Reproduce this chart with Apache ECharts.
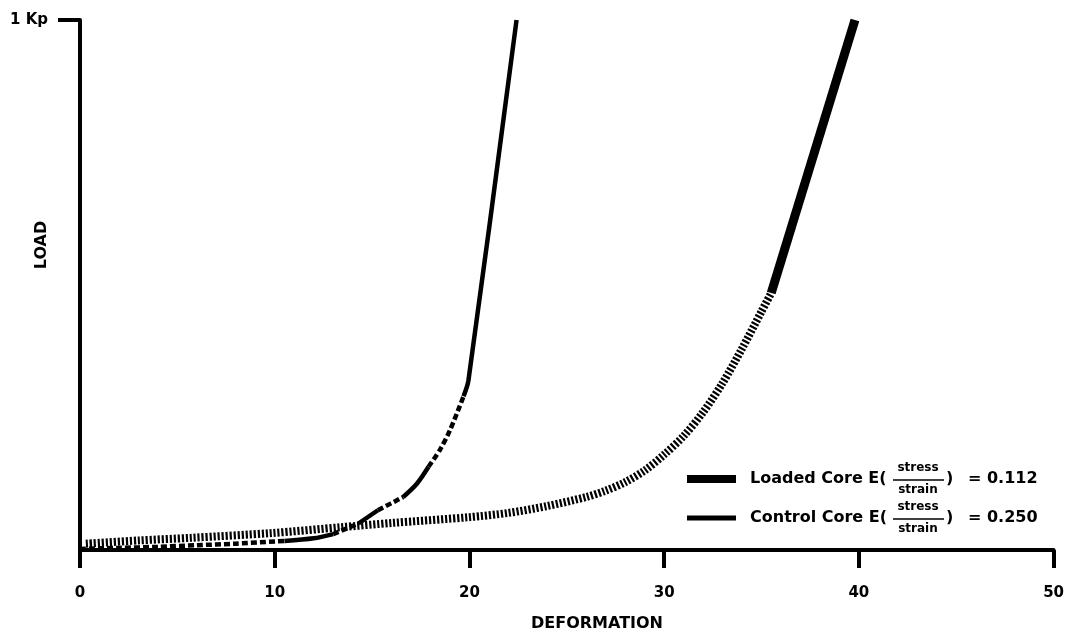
<!DOCTYPE html>
<html>
<head>
<meta charset="utf-8">
<script src="https://cdn.jsdelivr.net/npm/echarts@6/dist/echarts.min.js"></script>
<style>
html,body{margin:0;padding:0;background:#fff;}
#chart{width:1067px;height:633px;}
</style>
</head>
<body>
<div id="chart"></div>
<script>
// ---- data ----
var xTicks = [0, 10, 20, 30, 40, 50];
var yTickLabel = '1 Kp';
var xAxisTitle = 'DEFORMATION';
var yAxisTitle = 'LOAD';

var loadedDeformation = [0.3, 3, 5.7, 9.85, 13.4, 16, 20, 22, 24, 26, 27, 28, 29, 30, 31, 32, 33, 34, 35, 35.5, 39.8];
var loadedLoad        = [0.012, 0.018, 0.023, 0.032, 0.043, 0.051, 0.062, 0.07, 0.083, 0.1, 0.112, 0.128, 0.15, 0.18, 0.215, 0.26, 0.315, 0.38, 0.45, 0.485, 1.0];
// index ranges: hatched part, solid part
var loadedSegments = [[0, 19, 'hatch'], [19, 20, 'solid']];

var controlDeformation = [0, 2, 4, 6, 8, 10.5, 12, 13, 14.3, 15.3, 16.6, 17.3, 17.9, 18.5, 19, 19.7, 19.95, 22.42];
var controlLoad        = [0.002, 0.004, 0.006, 0.009, 0.012, 0.017, 0.022, 0.03, 0.05, 0.075, 0.10, 0.125, 0.157, 0.19, 0.226, 0.29, 0.32, 1.0];
var controlSegments = [[0, 5, 'dash'], [5, 7, 'solid'], [7, 8, 'dash'], [8, 9, 'solid'], [9, 10, 'dash'], [10, 12, 'solid'], [12, 15, 'dash'], [15, 17, 'solid']];

var legendNames = ['Loaded Core', 'Control Core'];
var legendValues = ['0.112', '0.250'];

// ---- build ----
var FONT = 'DejaVu Sans';
function pairs(xs, ys, a, b) {
  var out = [];
  for (var i = a; i <= b; i++) out.push([xs[i], ys[i]]);
  return out;
}
var series = [];
loadedSegments.forEach(function (s) {
  var hatch = s[2] === 'hatch';
  series.push({
    type: 'line', name: 'Loaded Core', symbol: 'none', smooth: hatch ? 0.3 : false,
    data: pairs(loadedDeformation, loadedLoad, s[0], s[1]),
    lineStyle: { color: '#000', width: hatch ? 8 : 9, type: hatch ? [2.2, 1.8] : 'solid', cap: 'butt' },
    z: 2
  });
});
controlSegments.forEach(function (s) {
  var dash = s[2] === 'dash';
  series.push({
    type: 'line', name: 'Control Core', symbol: 'none', smooth: 0.3,
    data: pairs(controlDeformation, controlLoad, s[0], s[1]),
    lineStyle: { color: '#000', width: 4.5, type: dash ? [6, 3] : 'solid', cap: 'butt' },
    z: 3
  });
});

function legendEntry(i, y, iconH) {
  return [
    { type: 'rect', shape: { x: 687, y: y - iconH / 2, width: 49, height: iconH }, style: { fill: '#000' } },
    { type: 'text', style: { x: 750, y: y, text: legendNames[i] + ' E(', font: 'bold 16px ' + FONT, fill: '#000', align: 'left', verticalAlign: 'middle' } },
    { type: 'text', style: { x: 918, y: y - 11, text: 'stress', font: 'bold 12px ' + FONT, fill: '#000', align: 'center', verticalAlign: 'middle' } },
    { type: 'line', shape: { x1: 893, y1: y + 1, x2: 944, y2: y + 1 }, style: { stroke: '#000', lineWidth: 1.5 } },
    { type: 'text', style: { x: 918, y: y + 11, text: 'strain', font: 'bold 12px ' + FONT, fill: '#000', align: 'center', verticalAlign: 'middle' } },
    { type: 'text', style: { x: 946, y: y, text: ')', font: 'bold 16px ' + FONT, fill: '#000', align: 'left', verticalAlign: 'middle' } },
    { type: 'text', style: { x: 968, y: y, text: '= ' + legendValues[i], font: 'bold 16px ' + FONT, fill: '#000', align: 'left', verticalAlign: 'middle' } }
  ];
}

var chart = echarts.init(document.getElementById('chart'));
chart.setOption({
  backgroundColor: '#fff',
  animation: false,
  grid: { left: 80, right: 11, top: 20, bottom: 83, containLabel: false },
  xAxis: {
    type: 'value', min: 0, max: 50, interval: 10,
    axisLine: { show: true, lineStyle: { color: '#000', width: 4 } },
    axisTick: { show: true, length: 18, lineStyle: { color: '#000', width: 4 } },
    axisLabel: { color: '#000', fontFamily: FONT, fontWeight: 'bold', fontSize: 15, margin: 36,
      formatter: function (v) { return xTicks.indexOf(v) >= 0 ? String(v) : ''; } },
    splitLine: { show: false }
  },
  yAxis: {
    type: 'value', min: 0, max: 1, interval: 1,
    axisLine: { show: true, lineStyle: { color: '#000', width: 4 } },
    axisTick: { show: true, length: 22, customValues: [1], lineStyle: { color: '#000', width: 4 } },
    axisLabel: { color: '#000', fontFamily: FONT, fontWeight: 'bold', fontSize: 15, margin: 32, customValues: [1],
      formatter: function () { return yTickLabel; } },
    splitLine: { show: false }
  },
  graphic: [
    { type: 'text', x: 42, y: 245, rotation: Math.PI / 2,
      style: { text: yAxisTitle, font: 'bold 16px ' + FONT, fill: '#000', align: 'center', verticalAlign: 'middle' } },
    { type: 'text', x: 597, y: 624,
      style: { text: xAxisTitle, font: 'bold 16px ' + FONT, fill: '#000', align: 'center', verticalAlign: 'middle' } }
  ].concat(legendEntry(0, 479, 8), legendEntry(1, 518, 5)),
  series: series
});
</script>
</body>
</html>
